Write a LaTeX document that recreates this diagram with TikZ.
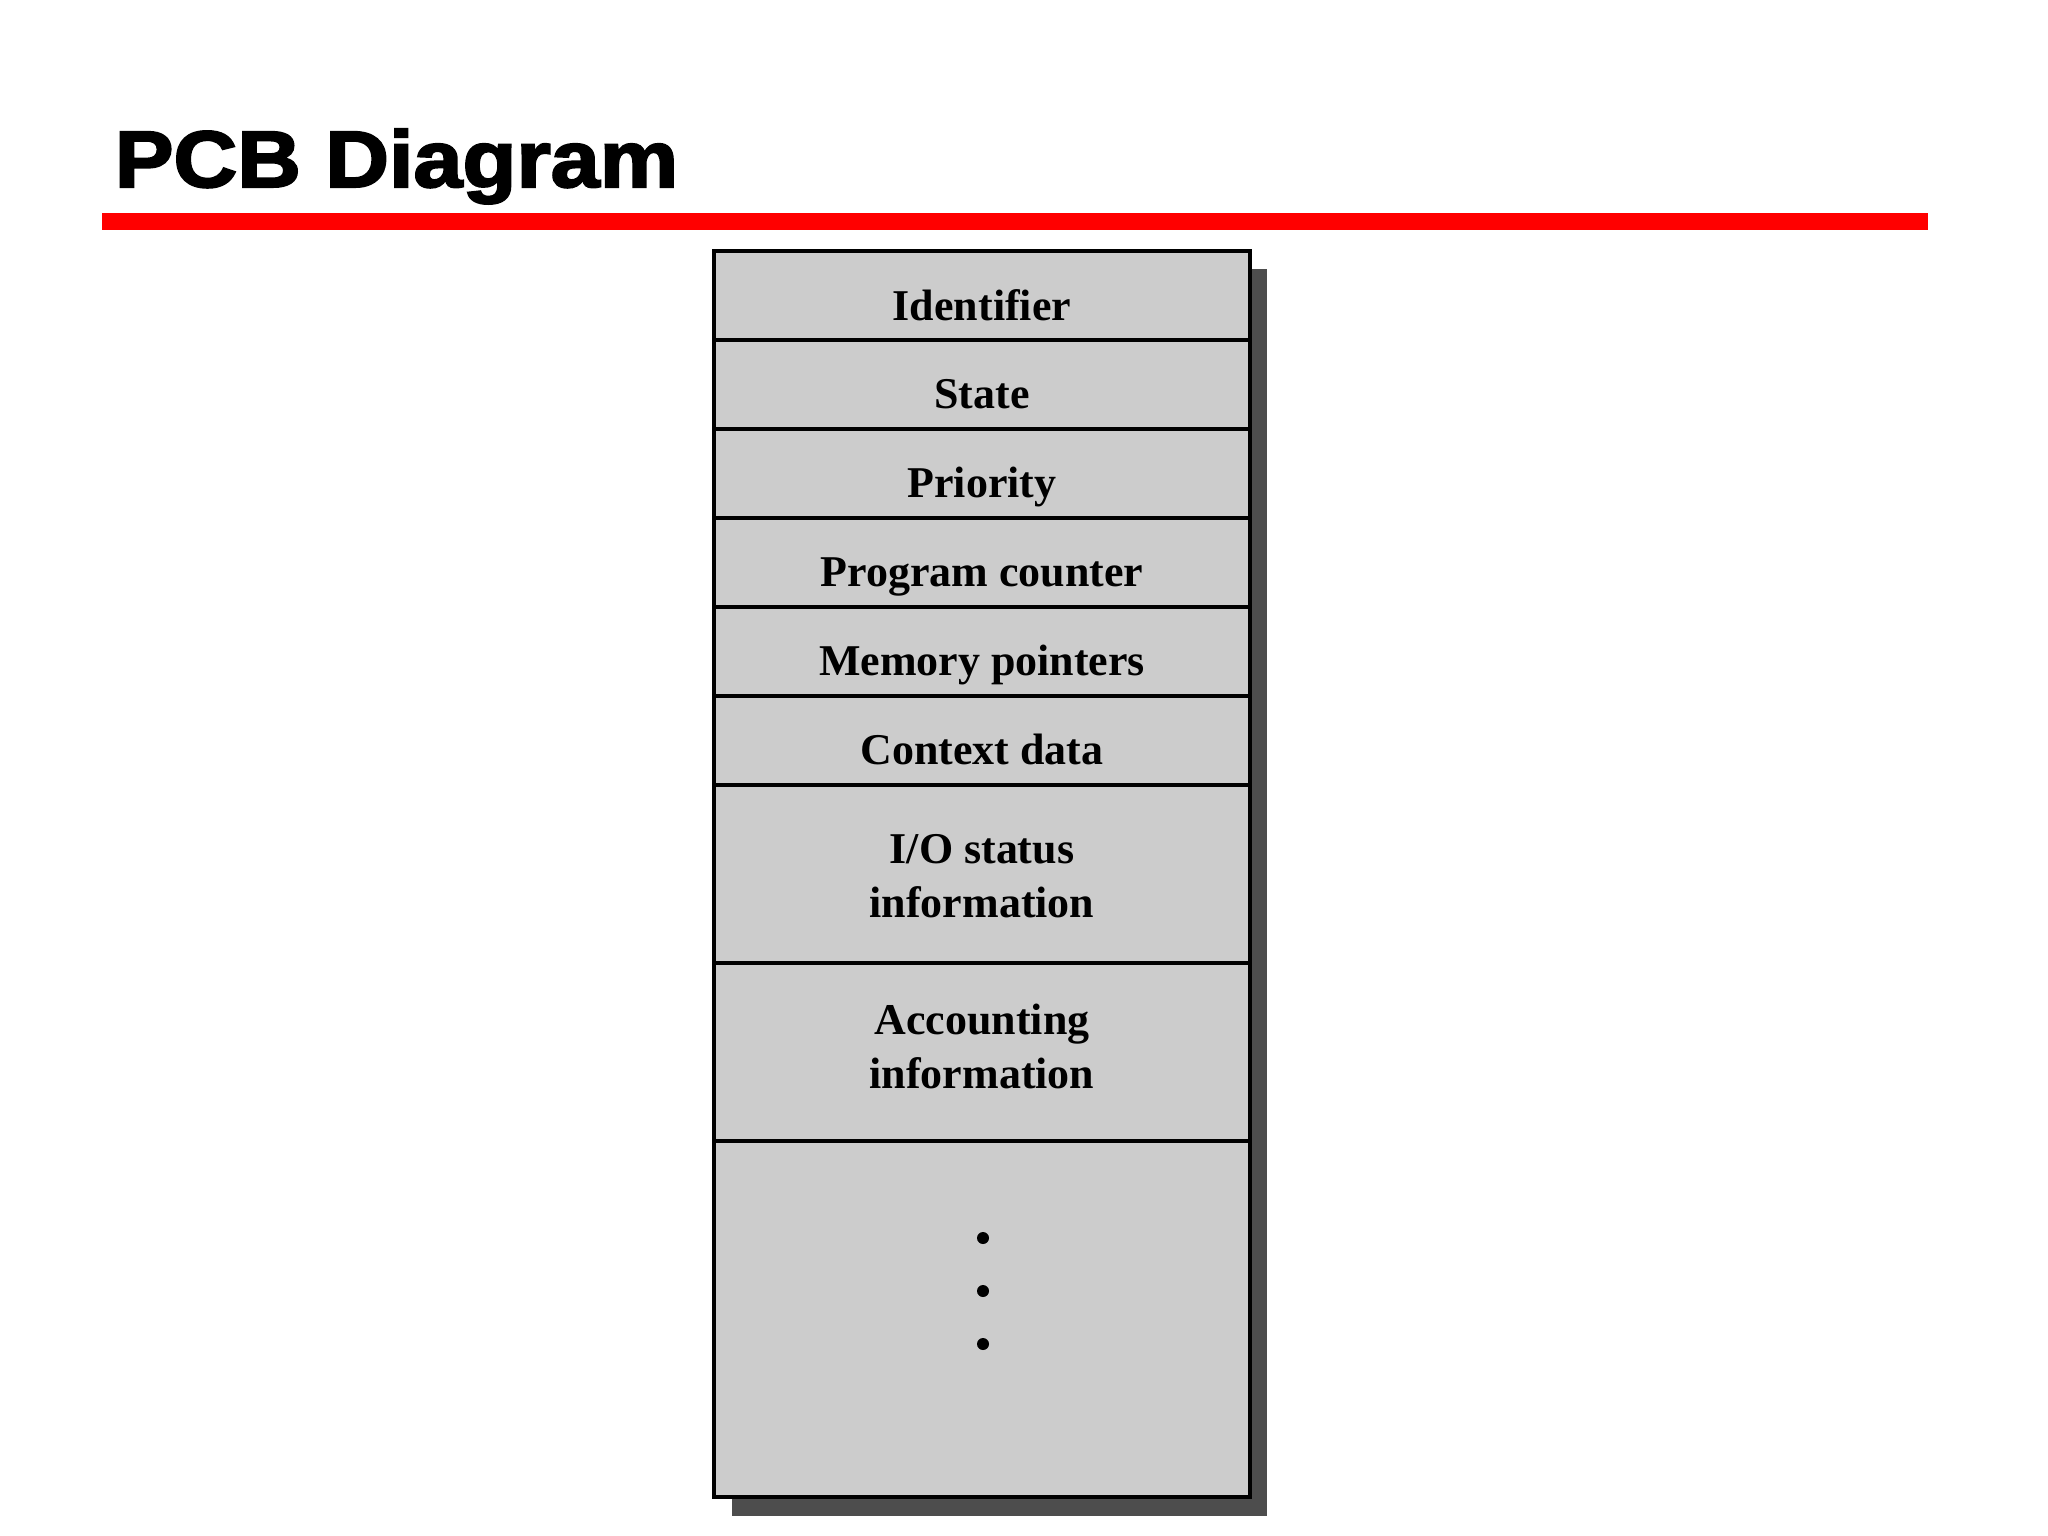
\documentclass[tikz,border=0pt]{standalone}
\usepackage{fontspec}
\setmainfont{Liberation Serif}
\newfontfamily\titlefont[FakeBold=2.5]{Liberation Sans Bold}
\definecolor{cellgray}{HTML}{CCCCCC}
\definecolor{shadowgray}{HTML}{4D4D4D}
\definecolor{barred}{HTML}{FF0000}
\tikzset{
  rowbox/.style={draw=black, fill=cellgray, line width=0.036cm, minimum width=5.36cm, inner sep=0pt, outer sep=0pt},
  lbl/.style={font=\fontsize{12.5}{15.1}\selectfont\bfseries, inner sep=0pt, align=center, text=black},
  dotc/.style={circle, fill=black, inner sep=0pt, minimum size=0.12cm},
}
\begin{document}
\begin{tikzpicture}[x=0.01cm,y=-0.01cm]
\useasboundingbox (0,0) rectangle (2048,1536);
% title
\node[anchor=base west, inner sep=0pt] (title) at (114,187)
  {\scalebox{1.1}[1]{\fontsize{22.8}{26}\titlefont PCB Diagram}};
\fill[barred] (102,213) rectangle (1928,230);
% shadow
\fill[shadowgray] (732,269) rectangle (1267,1516);
% rows (top 251, unit 89)
\node[rowbox, minimum height=0.89cm] (r1) at (982,295.5) {};
\node[rowbox, minimum height=0.89cm] (r2) at (982,384.5) {};
\node[rowbox, minimum height=0.89cm] (r3) at (982,473.5) {};
\node[rowbox, minimum height=0.89cm] (r4) at (982,562.5) {};
\node[rowbox, minimum height=0.89cm] (r5) at (982,651.5) {};
\node[rowbox, minimum height=0.89cm] (r6) at (982,740.5) {};
\node[rowbox, minimum height=1.78cm] (r7) at (982,874) {};
\node[rowbox, minimum height=1.78cm] (r8) at (982,1052) {};
\node[rowbox, minimum height=3.56cm] (r9) at (982,1319) {};
% labels
\node[lbl, anchor=base] (t1) at (982,320) {Identifier};
\node[lbl, anchor=base] (t2) at (982,408) {State};
\node[lbl, anchor=base] (t3) at (982,497) {Priority};
\node[lbl, anchor=base] (t4) at (982,586) {Program counter};
\node[lbl, anchor=base] (t5) at (982,675) {Memory pointers};
\node[lbl, anchor=base] (t6) at (982,764) {Context data};
\node[lbl, anchor=base] (t7) at (982,917) {I/O status\\information};
\node[lbl, anchor=base] (t8) at (982,1088) {Accounting\\information};
% dots
\node[dotc] (d1) at (983,1238) {};
\node[dotc] (d2) at (983,1291) {};
\node[dotc] (d3) at (983,1344) {};
\end{tikzpicture}
\end{document}
